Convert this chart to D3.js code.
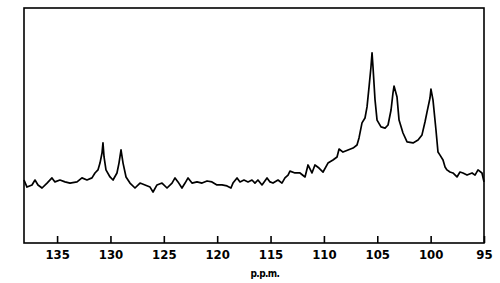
<!DOCTYPE html>
<html>
<head>
<meta charset="utf-8">
<script src="https://cdn.jsdelivr.net/npm/d3@7"></script>
<style>
	body { margin: 0; background: #fff; }
	svg { display: block; }
</style>
</head>
<body>
<svg id="spectrum"></svg>
<script>
// chemical shift (ppm) and signal height (arbitrary units)
var shift = [138.10, 137.82, 137.35, 137.07, 136.79, 136.41, 135.94, 135.48, 135.20, 134.73,
	134.26, 133.79, 133.13, 132.67, 132.20, 131.73, 131.45, 131.17, 130.98, 130.79,
	130.70, 130.60, 130.42, 130.04, 129.76, 129.39, 129.20, 129.01, 128.82, 128.54,
	128.17, 127.70, 127.23, 126.76, 126.29, 126.01, 125.64, 125.17, 124.70, 124.23,
	123.95, 123.67, 123.30, 123.01, 122.73, 122.36, 121.89, 121.42, 120.95, 120.49,
	120.02, 119.55, 119.08, 118.71, 118.52, 118.14, 117.86, 117.49, 117.11, 116.74,
	116.46, 116.18, 115.80, 115.33, 115.05, 114.77, 114.30, 113.93, 113.65, 113.36,
	113.18, 112.71, 112.24, 111.77, 111.49, 111.12, 110.84, 110.46, 110.08, 109.62,
	109.15, 108.77, 108.58, 108.21, 107.74, 107.27, 106.90, 106.71, 106.43, 106.15,
	105.96, 105.77, 105.59, 105.49, 105.40, 105.21, 105.02, 104.65, 104.27, 103.99,
	103.71, 103.53, 103.43, 103.15, 102.96, 102.59, 102.21, 101.65, 101.18, 100.81,
	100.53, 100.34, 100.06, 99.97, 99.78, 99.50, 99.31, 99.12, 98.84, 98.65,
	98.47, 98.19, 97.91, 97.53, 97.25, 96.97, 96.59, 96.12, 95.84, 95.56,
	95.19, 95.00];

var intensity = [26.8, 23.8, 24.7, 26.8, 24.7, 23.4, 25.5, 27.7, 26.0, 26.8,
	26.0, 25.5, 26.0, 27.7, 26.8, 27.7, 29.8, 31.1, 34.0, 38.3,
	42.6, 36.6, 31.1, 28.1, 26.8, 29.8, 34.0, 39.6, 34.0, 28.1,
	25.5, 23.4, 25.5, 24.7, 23.8, 21.7, 24.7, 25.5, 23.4, 25.5,
	27.7, 26.0, 23.4, 25.5, 27.7, 25.5, 26.0, 25.5, 26.4, 26.0,
	24.7, 24.7, 24.3, 23.4, 25.5, 27.7, 26.0, 26.8, 26.0, 26.8,
	25.5, 26.8, 24.7, 27.7, 26.0, 25.5, 26.8, 25.5, 27.7, 28.9,
	30.6, 29.8, 29.8, 28.1, 33.2, 29.8, 33.2, 31.9, 30.2, 34.0,
	35.3, 36.6, 40.0, 38.7, 39.6, 40.4, 41.7, 44.7, 51.1, 53.2,
	57.9, 66.4, 74.9, 80.9, 74.9, 60.9, 52.3, 49.4, 48.9, 50.2,
	56.6, 63.8, 66.8, 62.1, 52.3, 46.8, 43.0, 42.6, 43.8, 46.0,
	51.5, 55.7, 61.7, 65.5, 60.9, 48.1, 38.7, 37.4, 35.3, 32.3,
	31.1, 30.2, 29.8, 28.1, 30.2, 29.8, 28.9, 29.8, 28.9, 31.1,
	29.8, 26.0];

var tickLabels = [135, 130, 125, 120, 115, 110, 105, 100, 95];
var axisTitle = "p.p.m.";

var width = 500,
	height = 283,
	plotLeft = 24, plotRight = 484, plotTop = 8, plotBottom = 243;

var svg = d3.select("#spectrum")
	.attr("width", width)
	.attr("height", height);

var x = d3.scaleLinear()
	.domain([138.1, 95])
	.range([plotLeft, plotRight]);

var y = d3.scaleLinear()
	.domain([0, 100])
	.range([plotBottom, plotTop]);

var points = shift.map(function(d, i) { return [d, intensity[i]]; });

// frame
svg.append("rect")
	.attr("x", plotLeft)
	.attr("y", plotTop)
	.attr("width", plotRight - plotLeft)
	.attr("height", plotBottom - plotTop)
	.attr("fill", "none")
	.attr("stroke", "#000")
	.attr("stroke-width", 1.6);

var axis = svg.append("g")
	.attr("transform", "translate(0," + plotBottom + ")")
	.call(d3.axisBottom(x)
		.tickValues(tickLabels)
		.tickSizeInner(-7)
		.tickSizeOuter(0)
		.tickPadding(7)
		.tickFormat(d3.format("d")));

axis.select(".domain").remove();
axis.selectAll(".tick line")
	.attr("stroke", "#000")
	.attr("stroke-width", 1.6);
axis.selectAll(".tick text")
	.attr("fill", "#000")
	.style("font-family", "'DejaVu Sans', sans-serif")
	.style("font-stretch", "condensed")
	.style("font-weight", "bold")
	.style("font-size", "13px");

svg.append("text")
	.attr("x", 265)
	.attr("y", 277)
	.attr("text-anchor", "middle")
	.style("font-family", "'DejaVu Sans', sans-serif")
	.style("font-stretch", "condensed")
	.style("font-weight", "bold")
	.style("font-size", "10px")
	.style("letter-spacing", "-0.6px")
	.text(axisTitle);

var line = d3.line()
	.x(function(d) { return x(d[0]); })
	.y(function(d) { return y(d[1]); });

svg.append("path")
	.datum(points)
	.attr("d", line)
	.attr("fill", "none")
	.attr("stroke", "#000")
	.attr("stroke-width", 1.7)
	.attr("stroke-linejoin", "round");
</script>
</body>
</html>
